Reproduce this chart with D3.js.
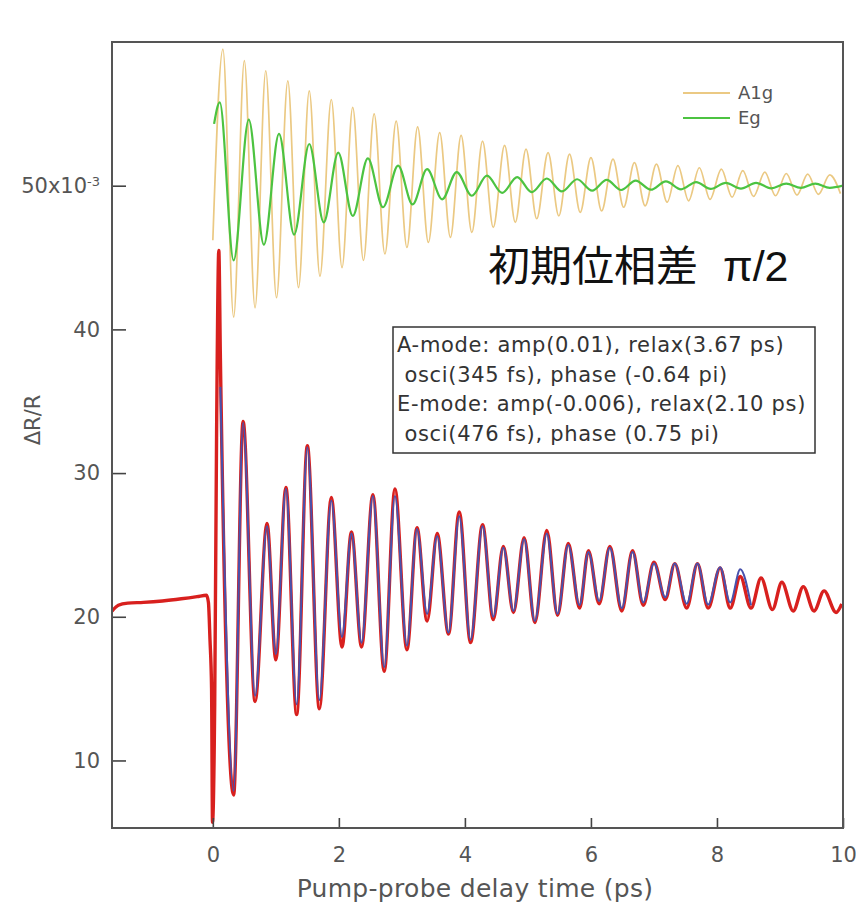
<!DOCTYPE html>
<html>
<head>
<meta charset="utf-8">
<script src="https://cdn.jsdelivr.net/npm/d3@7"></script>
<style>
  body { margin: 0; background: #fff; }
</style>
</head>
<body>
<div id="chart"></div>
<script>
// axis ticks
const xTicks = [0, 2, 4, 6, 8, 10];
const yTicks = [10, 20, 30, 40, 50];
const yTickLabels = ["10", "20", "30", "40", "50x10"];
const yTopExponent = "-3";

// A1g mode (start point, then alternating peak / trough)
const a1gTime = [0.00, 0.16, 0.33, 0.50, 0.67, 0.84, 1.01, 1.19, 1.36, 1.53, 1.70, 1.88, 2.05, 2.22, 2.39,
  2.56, 2.73, 2.91, 3.08, 3.25, 3.42, 3.60, 3.77, 3.94, 4.11, 4.28, 4.45, 4.63, 4.80, 4.97, 5.14, 5.32,
  5.49, 5.66, 5.83, 6.00, 6.17, 6.35, 6.52, 6.69, 6.86, 7.04, 7.21, 7.38, 7.55, 7.72, 7.89, 8.07, 8.24,
  8.41, 8.58, 8.76, 8.93, 9.10, 9.27, 9.44, 9.61, 9.79, 9.96];
const a1gValue = [46.2, 59.5, 40.85, 58.7, 41.5, 58.0, 42.2, 57.3, 42.9, 56.6, 43.7, 56.0, 44.3, 55.45, 44.8,
  55.0, 45.25, 54.5, 45.7, 54.1, 46.05, 53.7, 46.4, 53.5, 46.75, 53.1, 47.1, 52.8, 47.45, 52.55, 47.7, 52.3,
  47.9, 52.2, 48.15, 51.95, 48.25, 51.85, 48.5, 51.6, 48.6, 51.5, 48.85, 51.4, 48.95, 51.25, 49.05, 51.15, 49.2,
  51.05, 49.25, 50.95, 49.3, 50.85, 49.35, 50.8, 49.4, 50.75, 49.45];

// Eg mode
const egTime = [0.02, 0.11, 0.33, 0.57, 0.81, 1.05, 1.29, 1.53, 1.76, 1.99, 2.22, 2.46, 2.70, 2.94, 3.17,
  3.40, 3.64, 3.87, 4.11, 4.35, 4.59, 4.83, 5.06, 5.30, 5.54, 5.78, 6.02, 6.25, 6.48, 6.71, 6.95, 7.19,
  7.43, 7.67, 7.90, 8.14, 8.38, 8.62, 8.86, 9.10, 9.33, 9.56, 9.79, 10.0];
const egValue = [54.3, 55.8, 44.8, 54.6, 45.9, 53.6, 46.6, 52.9, 47.45, 52.3, 47.9, 51.9, 48.5, 51.4, 48.7,
  51.15, 49.05, 50.95, 49.3, 50.7, 49.5, 50.6, 49.55, 50.5, 49.6, 50.45, 49.65, 50.4, 49.7, 50.35, 49.72, 50.3,
  49.75, 50.25, 49.78, 50.2, 49.8, 50.2, 49.82, 50.15, 49.85, 50.15, 49.85, 50.0];

// measured dR/R trace
const dataTime = [-1.60, -1.50, -1.35, -1.10, -0.80, -0.50, -0.25, -0.10, -0.07, -0.045, -0.02, -0.005,
  0.03, 0.06, 0.095, 0.12, 0.33, 0.48, 0.67, 0.86, 1.00, 1.16, 1.33, 1.50, 1.69, 1.88, 2.05, 2.20, 2.36,
  2.54, 2.72, 2.89, 3.08, 3.24, 3.40, 3.56, 3.74, 3.91, 4.09, 4.28, 4.45, 4.61, 4.77, 4.94, 5.11, 5.30,
  5.47, 5.64, 5.82, 5.96, 6.13, 6.30, 6.49, 6.66, 6.83, 7.00, 7.18, 7.33, 7.52, 7.69, 7.86, 8.05, 8.21,
  8.37, 8.54, 8.70, 8.88, 9.03, 9.21, 9.37, 9.54, 9.70, 9.89, 9.98];
const dataValue = [20.4, 20.8, 20.95, 21.0, 21.1, 21.25, 21.4, 21.5, 21.0, 18.4, 15.0, 5.7,
  14.0, 33.0, 45.5, 38.0, 7.6, 33.6, 14.1, 26.5, 17.0, 29.0, 13.2, 31.9, 13.6, 28.3, 17.9, 25.9, 17.9,
  28.5, 16.2, 28.9, 17.7, 26.2, 19.7, 25.8, 18.8, 27.3, 18.2, 26.4, 19.8, 24.9, 20.3, 25.5, 19.6, 26.0,
  20.1, 25.1, 20.6, 24.6, 20.9, 24.9, 20.4, 24.6, 20.8, 23.8, 21.2, 23.7, 20.6, 23.7, 20.6, 23.4, 20.6,
  22.8, 20.6, 22.7, 20.5, 22.4, 20.4, 22.1, 20.4, 21.8, 20.3, 20.9];

// two-mode fit
const fitTime = [0.12, 0.33, 0.48, 0.67, 0.86, 1.00, 1.16, 1.33, 1.50, 1.69, 1.88, 2.05, 2.20, 2.36, 2.54,
  2.72, 2.89, 3.08, 3.24, 3.40, 3.56, 3.74, 3.91, 4.09, 4.28, 4.45, 4.61, 4.77, 4.94, 5.11, 5.30, 5.47,
  5.64, 5.82, 5.96, 6.13, 6.30, 6.49, 6.66, 6.83, 7.00, 7.18, 7.33, 7.52, 7.69, 7.86, 8.05, 8.21, 8.37, 8.54];
const fitValue = [36.0, 7.9, 33.5, 14.5, 26.3, 17.4, 28.9, 13.9, 31.8, 14.2, 28.1, 18.6, 25.8, 18.2, 28.4,
  16.5, 28.4, 18.0, 26.1, 20.2, 25.6, 18.9, 27.0, 18.4, 26.3, 20.0, 24.8, 20.4, 25.4, 19.7, 25.8, 20.2,
  25.0, 20.8, 24.5, 21.1, 24.8, 20.6, 24.5, 21.0, 23.7, 21.35, 23.7, 20.9, 23.7, 20.85, 23.45, 21.0, 23.3, 20.8];

const legendNames = ["A1g", "Eg"];
const fitLines = [
  "A-mode: amp(0.01), relax(3.67 ps)",
  " osci(345 fs), phase (-0.64 pi)",
  "E-mode: amp(-0.006), relax(2.10 ps)",
  " osci(476 fs), phase (0.75 pi)"
];

function chart() {
  const width = 856, height = 910;
  const left = 112, right = 843, top = 42, bottom = 828;
  const font = "'DejaVu Sans', Verdana, sans-serif";

  const x = d3.scaleLinear().domain([-1.6, 10]).range([left, right]);
  const y = d3.scaleLinear().domain([5.3, 60]).range([bottom, top]);

  const svg = d3.create("svg")
      .attr("width", width)
      .attr("height", height)
      .attr("font-family", font);

  svg.append("defs").append("clipPath")
      .attr("id", "plot-clip")
    .append("rect")
      .attr("x", left).attr("y", top)
      .attr("width", right - left).attr("height", bottom - top);

  const line = d3.line()
      .x(d => x(d[0]))
      .y(d => y(d[1]))
      .curve(d3.curveMonotoneX);

  const plot = svg.append("g").attr("clip-path", "url(#plot-clip)");

  plot.append("path")
      .attr("fill", "none")
      .attr("stroke", "#ebc983")
      .attr("stroke-width", 1.7)
      .attr("d", line(d3.zip(a1gTime, a1gValue)));

  plot.append("path")
      .attr("fill", "none")
      .attr("stroke", "#4cc341")
      .attr("stroke-width", 2.2)
      .attr("d", line(d3.zip(egTime, egValue)));

  plot.append("path")
      .attr("fill", "none")
      .attr("stroke", "#d8201e")
      .attr("stroke-width", 3.4)
      .attr("d", line(d3.zip(dataTime, dataValue)));

  plot.append("path")
      .attr("fill", "none")
      .attr("stroke", "#4852ad")
      .attr("stroke-width", 2)
      .attr("d", line(d3.zip(fitTime, fitValue)));

  // axes with inward ticks
  const yAxis = svg.append("g")
      .attr("transform", `translate(${left},0)`)
      .call(d3.axisLeft(y).tickValues(yTicks).tickSize(-14).tickPadding(12)
        .tickFormat((d, i) => yTickLabels[i]));
  const xAxis = svg.append("g")
      .attr("transform", `translate(0,${bottom})`)
      .call(d3.axisBottom(x).tickValues(xTicks).tickSize(-10).tickPadding(19));

  [yAxis, xAxis].forEach(g => {
    g.select(".domain").remove();
    g.selectAll(".tick line").attr("stroke", "#444").attr("stroke-width", 1.6);
    g.selectAll(".tick text")
        .attr("fill", "#555")
        .attr("font-family", font)
        .attr("font-size", 21);
  });

  yAxis.selectAll(".tick text")
      .filter(d => d === 50)
    .append("tspan")
      .attr("dy", "-0.55em")
      .attr("font-size", 13)
      .text(yTopExponent);

  svg.append("rect")
      .attr("x", left).attr("y", top)
      .attr("width", right - left).attr("height", bottom - top)
      .attr("fill", "none")
      .attr("stroke", "#555")
      .attr("stroke-width", 2);

  svg.append("text")
      .attr("transform", `translate(40,420) rotate(-90)`)
      .attr("text-anchor", "middle")
      .attr("fill", "#555")
      .attr("font-size", 21)
      .text("ΔR/R");

  svg.append("text")
      .attr("x", 475)
      .attr("y", 897)
      .attr("text-anchor", "middle")
      .attr("fill", "#555")
      .attr("font-size", 25)
      .attr("letter-spacing", 0.3)
      .text("Pump-probe delay time (ps)");

  // legend
  const legendColors = ["#ebc983", "#4cc341"];
  const legend = svg.append("g")
    .selectAll("g")
    .data(legendNames)
    .join("g")
      .attr("transform", (d, i) => `translate(683,${93 + i * 25})`);
  legend.append("line")
      .attr("x2", 47)
      .attr("stroke", (d, i) => legendColors[i])
      .attr("stroke-width", 2);
  legend.append("text")
      .attr("x", 55)
      .attr("dy", "0.35em")
      .attr("fill", "#555")
      .attr("font-size", 18)
      .text(d => d);

  // annotation
  svg.append("text")
      .attr("x", 488).attr("y", 281)
      .attr("font-family", "'Noto Sans CJK JP', sans-serif")
      .attr("font-size", 42)
      .attr("fill", "#111")
      .text("初期位相差");
  svg.append("text")
      .attr("x", 723).attr("y", 281)
      .attr("font-family", "'Liberation Sans', Arial, sans-serif")
      .attr("font-size", 43)
      .attr("fill", "#111")
      .text("π/2");

  // fit parameter box
  svg.append("rect")
      .attr("x", 393).attr("y", 327)
      .attr("width", 422).attr("height", 126)
      .attr("fill", "#fff")
      .attr("stroke", "#333")
      .attr("stroke-width", 1.5);
  svg.append("g")
    .selectAll("text")
    .data(fitLines)
    .join("text")
      .attr("x", 397)
      .attr("y", (d, i) => 352 + i * 29.5)
      .attr("fill", "#333")
      .attr("font-size", 21)
      .attr("letter-spacing", 0.7)
      .attr("xml:space", "preserve")
      .style("white-space", "pre")
      .text(d => d);

  return svg.node();
}

d3.select("#chart").node().append(chart());
</script>
</body>
</html>
